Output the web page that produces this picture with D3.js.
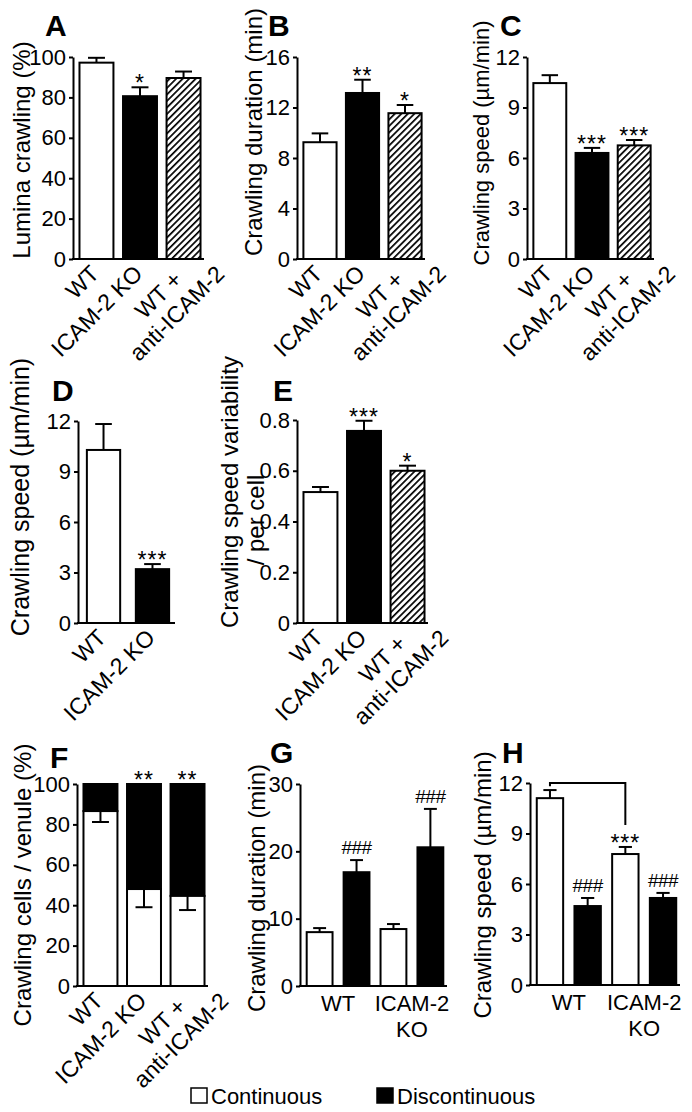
<!DOCTYPE html>
<html>
<head>
<meta charset="utf-8">
<script src="https://cdn.jsdelivr.net/npm/d3@7"></script>
<style>
  body { margin: 0; background: #fff; }
  text { font-family: 'Liberation Sans', Arial, Helvetica, sans-serif; fill: #000; }
</style>
</head>
<body>
<svg id="fig" width="692" height="1112"></svg>
<script>
// ---- data ----
const groupsABC = ["WT", "ICAM-2 KO", "WT +\nanti-ICAM-2"];
const fillsABC = ["white", "black", "hatch"];

const luminaMean = [97.2, 80.6, 89.6];
const luminaSem = [2.4, 4.4, 3.2];
const luminaSig = ["", "*", ""];

const durationMean = [9.25, 13.15, 11.55];
const durationSem = [0.7, 1.05, 0.65];
const durationSig = ["", "**", "*"];

const speedMean = [10.45, 6.3, 6.75];
const speedSem = [0.47, 0.3, 0.32];
const speedSig = ["", "***", "***"];

const groupsD = ["WT", "ICAM-2 KO"];
const fillsD = ["white", "black"];
const speedDMean = [10.28, 3.2];
const speedDSem = [1.54, 0.3];
const speedDSig = ["", "***"];

const variabilityMean = [0.516, 0.757, 0.6];
const variabilitySem = [0.02, 0.04, 0.02];
const variabilitySig = ["", "***", "*"];

const continuousPct = [86.6, 48, 44.6];
const continuousSem = [5.4, 9, 7];
const typeSig = ["", "**", "**"];

const groupsGH = ["WT", "ICAM-2\nKO"];
const crawlTypes = ["Continuous", "Discontinuous"];
const durationTypeMean = [8.0, 16.9, 8.46, 20.6];
const durationTypeSem = [0.6, 1.8, 0.74, 5.7];
const durationTypeSig = ["", "###", "", "###"];
const speedTypeMean = [11.1, 4.69, 7.78, 5.17];
const speedTypeSem = [0.48, 0.48, 0.42, 0.3];
const speedTypeSig = ["", "###", "***", "###"];
const bracketH = [12, 11.8, 9.5]; // top, left foot, right foot

const ticksPct = [0, 20, 40, 60, 80, 100];
const ticksDur = [0, 4, 8, 12, 16];
const ticksSpeed = [0, 3, 6, 9, 12];
const ticksVar = [0, 0.2, 0.4, 0.6, 0.8];
const ticksDurG = [0, 10, 20, 30];

// ---- drawing ----
const svg = d3.select("#fig");
svg.append("rect").attr("width", 692).attr("height", 1112).attr("fill", "#fff");

const defs = svg.append("defs");
const pat = defs.append("pattern")
  .attr("id", "hatch")
  .attr("patternUnits", "userSpaceOnUse")
  .attr("width", 4.6).attr("height", 4.6)
  .attr("patternTransform", "rotate(45)");
pat.append("rect").attr("width", 4.6).attr("height", 4.6).attr("fill", "#fff");
pat.append("line").attr("x1", 0).attr("y1", 0).attr("x2", 0).attr("y2", 4.6)
  .attr("stroke", "#000").attr("stroke-width", 3.4);

const fillOf = f => f === "hatch" ? "url(#hatch)" : f;

function frame(p) {
  const g = svg.append("g");
  const y = d3.scaleLinear().domain([0, p.ticks[p.ticks.length - 1]]).range([p.y0, p.yTop]);
  const x = d3.scaleBand().domain(p.keys).range([p.axisX + 3, p.xEnd])
    .paddingInner(p.pi).paddingOuter(p.po);

  const ya = g.append("g")
    .attr("transform", "translate(" + p.axisX + ",0)")
    .call(d3.axisLeft(y).tickValues(p.ticks).tickSize(4).tickSizeOuter(0).tickPadding(3)
      .tickFormat(p.fmt || (d => d)));
  ya.selectAll("path, line").attr("stroke", "#000").attr("stroke-width", 2);
  ya.selectAll("text").attr("font-size", 22).attr("font-family", null).attr("fill", "#000");

  g.append("line")
    .attr("x1", p.axisX - 1).attr("x2", x.range()[1])
    .attr("y1", p.y0).attr("y2", p.y0)
    .attr("stroke", "#000").attr("stroke-width", 2);

  g.append("text")
    .attr("x", p.lx).attr("y", p.ly)
    .attr("font-size", 30).attr("font-weight", "bold")
    .text(p.letter);

  p.title.forEach((t, i) => {
    g.append("text")
      .attr("transform", "translate(" + p.titleX[i] + "," + p.titleY[i] + ") rotate(-90)")
      .attr("text-anchor", "middle")
      .attr("font-size", p.titleSize || 24)
      .text(t);
  });
  return { g, x, y };
}

function rotLabels(g, x, y0) {
  x.domain().forEach(c => {
    const lines = c.split("\n");
    const multi = lines.length > 1;
    const px = x(c) + x.bandwidth() / 2 + (multi ? 0 : 4);
    const py = y0 + (multi ? 22 : 16);
    const t = g.append("g").attr("transform", "translate(" + px + "," + py + ") rotate(-45)");
    const first = t.append("text").attr("text-anchor", "end").attr("font-size", 23).text(lines[0]);
    const L1 = first.node().getComputedTextLength();
    lines.slice(1).forEach((ln, j) => {
      t.append("text").attr("x", -L1 / 2).attr("y", (j + 1) * 26)
        .attr("text-anchor", "middle").attr("font-size", 23).text(ln);
    });
  });
}

function sigMarks(g, x, y, keys, tops, sig) {
  keys.forEach((k, i) => {
    if (!sig[i]) return;
    const hash = sig[i].indexOf("#") >= 0;
    g.append("text")
      .attr("x", x(k) + x.bandwidth() / 2)
      .attr("y", y(tops[i]) + (hash ? -6 : 4))
      .attr("text-anchor", "middle")
      .attr("font-size", hash ? 19 : 23)
      .attr("letter-spacing", hash ? -0.5 : 1)
      .text(sig[i]);
  });
}

function barPanel(p, mean, sem, fills, sig) {
  const { g, x, y } = frame(p);
  const keys = p.keys;
  g.selectAll(".bar").data(keys).enter().append("rect")
    .attr("x", k => x(k)).attr("width", x.bandwidth())
    .attr("y", (k, i) => y(mean[i]))
    .attr("height", (k, i) => y(0) - y(mean[i]))
    .attr("fill", (k, i) => fillOf(fills[i]))
    .attr("stroke", "#000").attr("stroke-width", 2);
  const cap = x.bandwidth() * 0.5;
  keys.forEach((k, i) => {
    const cx = x(k) + x.bandwidth() / 2;
    g.append("line").attr("x1", cx).attr("x2", cx)
      .attr("y1", y(mean[i])).attr("y2", y(mean[i] + sem[i]))
      .attr("stroke", "#000").attr("stroke-width", 2);
    g.append("line").attr("x1", cx - cap / 2).attr("x2", cx + cap / 2)
      .attr("y1", y(mean[i] + sem[i])).attr("y2", y(mean[i] + sem[i]))
      .attr("stroke", "#000").attr("stroke-width", 2);
  });
  sigMarks(g, x, y, keys, mean.map((m, i) => m + sem[i]), sig);
  return { g, x, y };
}

// A
const pA = { letter: "A", lx: 45, ly: 36, axisX: 73, y0: 259, yTop: 57, xEnd: 204, pi: 0.22, po: 0.08,
  keys: groupsABC, ticks: ticksPct, title: ["Lumina crawling (%)"], titleX: [30], titleY: [150] };
const rA = barPanel(pA, luminaMean, luminaSem, fillsABC, luminaSig);
rotLabels(rA.g, rA.x, 259);

// B
const pB = { letter: "B", lx: 268, ly: 36, axisX: 297, y0: 259, yTop: 57, xEnd: 425, pi: 0.22, po: 0.08,
  keys: groupsABC, ticks: ticksDur, title: ["Crawling duration (min)"], titleX: [262], titleY: [132] };
const rB = barPanel(pB, durationMean, durationSem, fillsABC, durationSig);
rotLabels(rB.g, rB.x, 259);

// C
const pC = { letter: "C", lx: 500, ly: 36, axisX: 527, y0: 259, yTop: 57, xEnd: 654, pi: 0.22, po: 0.08,
  keys: groupsABC, ticks: ticksSpeed, title: ["Crawling speed (\u00b5m/min)"], titleX: [489], titleY: [143], titleSize: 22 };
const rC = barPanel(pC, speedMean, speedSem, fillsABC, speedSig);
rotLabels(rC.g, rC.x, 259);

// D
const pD = { letter: "D", lx: 52, ly: 401, axisX: 78, y0: 623, yTop: 421, xEnd: 175, pi: 0.32, po: 0.12,
  keys: groupsD, ticks: ticksSpeed, title: ["Crawling speed (\u00b5m/min)"], titleX: [29], titleY: [497], titleSize: 25 };
const rD = barPanel(pD, speedDMean, speedDSem, fillsD, speedDSig);
rotLabels(rD.g, rD.x, 623);

// E
const pE = { letter: "E", lx: 273, ly: 401, axisX: 297, y0: 623, yTop: 420, xEnd: 428, pi: 0.22, po: 0.08,
  keys: groupsABC, ticks: ticksVar, fmt: d => d === 0 ? "0" : d.toFixed(1),
  title: ["Crawling speed variability", "/ per cell"], titleX: [238, 264], titleY: [492, 520] };
const rE = barPanel(pE, variabilityMean, variabilitySem, fillsABC, variabilitySig);
rotLabels(rE.g, rE.x, 623);

// F (stacked continuous / discontinuous)
const pF = { letter: "F", lx: 50, ly: 768, axisX: 77, y0: 986, yTop: 784, xEnd: 208, pi: 0.22, po: 0.08,
  keys: groupsABC, ticks: ticksPct, title: ["Crawling cells / venule (%)"], titleX: [31], titleY: [885] };
(function () {
  const { g, x, y } = frame(pF);
  const keys = pF.keys;
  const total = ticksPct[ticksPct.length - 1];
  g.selectAll(".disc").data(keys).enter().append("rect")
    .attr("x", k => x(k)).attr("width", x.bandwidth())
    .attr("y", y(total)).attr("height", (k, i) => y(continuousPct[i]) - y(total))
    .attr("fill", "#000").attr("stroke", "#000").attr("stroke-width", 2);
  g.selectAll(".cont").data(keys).enter().append("rect")
    .attr("x", k => x(k)).attr("width", x.bandwidth())
    .attr("y", (k, i) => y(continuousPct[i])).attr("height", (k, i) => y(0) - y(continuousPct[i]))
    .attr("fill", "#fff").attr("stroke", "#000").attr("stroke-width", 2);
  const cap = x.bandwidth() * 0.5;
  keys.forEach((k, i) => {
    const cx = x(k) + x.bandwidth() / 2;
    const lo = continuousPct[i] - continuousSem[i];
    g.append("line").attr("x1", cx).attr("x2", cx)
      .attr("y1", y(continuousPct[i])).attr("y2", y(lo))
      .attr("stroke", "#000").attr("stroke-width", 2);
    g.append("line").attr("x1", cx - cap / 2).attr("x2", cx + cap / 2)
      .attr("y1", y(lo)).attr("y2", y(lo))
      .attr("stroke", "#000").attr("stroke-width", 2);
  });
  sigMarks(g, x, y, keys, keys.map(() => total), typeSig);
  rotLabels(g, x, 986);
})();

// G and H (grouped by genotype and crawling type)
const keysGH = d3.cross(groupsGH, crawlTypes).map(d => d[0] + "|" + d[1]);
const fillsGH = keysGH.map(k => k.endsWith(crawlTypes[0]) ? "white" : "black");

function groupLabels(g, x, y0) {
  groupsGH.forEach(grp => {
    const ks = keysGH.filter(k => k.startsWith(grp + "|"));
    const cx = (x(ks[0]) + x(ks[ks.length - 1]) + x.bandwidth()) / 2;
    grp.split("\n").forEach((ln, j) => {
      g.append("text").attr("x", cx).attr("y", y0 + 25 + j * 26)
        .attr("text-anchor", "middle").attr("font-size", 22).text(ln);
    });
  });
}

const pG = { letter: "G", lx: 270, ly: 763, axisX: 300, y0: 986, yTop: 784, xEnd: 447, pi: 0.3, po: 0.1,
  keys: keysGH, ticks: ticksDurG, title: ["Crawling duration (min)"], titleX: [265], titleY: [888] };
const rG = barPanel(pG, durationTypeMean, durationTypeSem, fillsGH, durationTypeSig);
groupLabels(rG.g, rG.x, 986);

const pH = { letter: "H", lx: 502, ly: 763, axisX: 530, y0: 985, yTop: 783, xEnd: 680, pi: 0.3, po: 0.1,
  keys: keysGH, ticks: ticksSpeed, title: ["Crawling speed (\u00b5m/min)"], titleX: [491], titleY: [885] };
const rH = barPanel(pH, speedTypeMean, speedTypeSem, fillsGH, speedTypeSig);
groupLabels(rH.g, rH.x, 985);
(function () {
  const { g, x, y } = rH;
  const xa = x(keysGH[0]) + x.bandwidth() / 2;
  const xb = x(keysGH[2]) + x.bandwidth() / 2;
  g.append("path")
    .attr("d", "M" + xa + "," + y(bracketH[1]) + "V" + y(bracketH[0]) + "H" + xb + "V" + y(bracketH[2]))
    .attr("fill", "none").attr("stroke", "#000").attr("stroke-width", 2);
})();

// legend
const legend = svg.append("g");
const legX = [191, 377];
crawlTypes.forEach((t, i) => {
  legend.append("rect").attr("x", legX[i]).attr("y", 1088).attr("width", 16).attr("height", 15)
    .attr("fill", i === 0 ? "#fff" : "#000").attr("stroke", "#000").attr("stroke-width", 1.5);
  legend.append("text").attr("x", legX[i] + 20).attr("y", 1104).attr("font-size", 22).text(t);
});
</script>
</body>
</html>
